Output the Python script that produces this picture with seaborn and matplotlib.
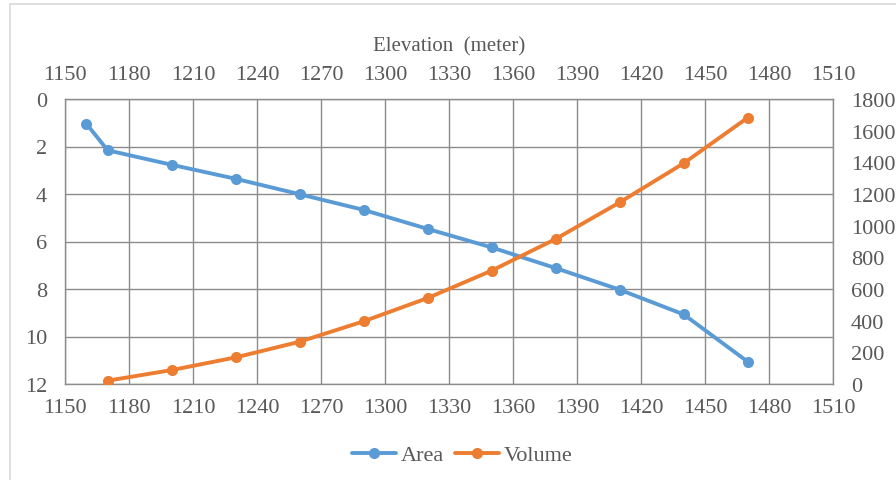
import numpy as np
import pandas as pd
import seaborn as sns
import matplotlib.pyplot as plt
from matplotlib.lines import Line2D

# values
area_elev = [1160, 1170, 1200, 1230, 1260, 1290, 1320, 1350, 1380, 1410, 1440, 1470]
area_vals = [1.04, 2.16, 2.77, 3.36, 4.01, 4.67, 5.47, 6.25, 7.12, 8.03, 9.07, 11.06]
vol_elev = [1170, 1200, 1230, 1260, 1290, 1320, 1350, 1380, 1410, 1440, 1470]
vol_vals = [21, 88, 168, 267, 396, 543, 716, 916, 1147, 1394, 1682]
x_ticks = list(range(1150, 1511, 30))
left_ticks = list(range(0, 13, 2))
right_ticks = list(range(0, 1801, 200))

blue = "#5B9BD5"
orange = "#ED7D31"
txt = "#595959"
grid = "#8C8C8C"
fs = 16

sns.set_theme(style="white")
plt.rcParams["font.family"] = ["Liberation Serif", "DejaVu Serif"]

area_df = pd.DataFrame({"Elevation": area_elev, "Area": area_vals})
vol_df = pd.DataFrame({"Elevation": vol_elev, "Volume": vol_vals})

fig = plt.figure(figsize=(8.96, 4.81), dpi=100)
ax = fig.add_axes([65 / 896, 1 - 385 / 481, (833 - 65) / 896, (385 - 100) / 481])

line_kw = dict(marker="o", markersize=8, markeredgewidth=0, linewidth=2.8)

sns.lineplot(data=area_df, x="Elevation", y="Area", ax=ax, color=blue, **line_kw)
ax.set_xlim(1150, 1510)
ax.set_ylim(12, 0)
ax.set_xticks(x_ticks)
ax.set_yticks(left_ticks)
ax.grid(True, color=grid, linewidth=1.0)
ax.set_xlabel("")
ax.set_ylabel("")
ax.tick_params(axis="both", length=0, labelsize=fs, labelcolor=txt)
ax.tick_params(axis="y", pad=13)
ax.tick_params(axis="x", pad=10)
for s in ax.spines.values():
    s.set_color(grid)
    s.set_linewidth(1.0)

ax2 = ax.twinx()
sns.lineplot(data=vol_df, x="Elevation", y="Volume", ax=ax2, color=orange, **line_kw)
ax2.set_ylim(0, 1800)
ax2.set_yticks(right_ticks)
ax2.set_ylabel("")
ax2.tick_params(axis="y", length=0, labelsize=fs, labelcolor=txt, pad=13)
for s in ax2.spines.values():
    s.set_visible(False)

top = ax.secondary_xaxis("top")
top.set_xticks(x_ticks)
top.tick_params(length=0, labelsize=fs, labelcolor=txt, pad=11)
top.spines["top"].set_visible(False)
top.set_xlabel("Elevation  (meter)", fontsize=15, color=txt, labelpad=10)

# outer chart border
fig.add_artist(Line2D([10 / 896, 10 / 896], [0, 1 - 5 / 481], color="#D9D9D9", linewidth=1.2))
fig.add_artist(Line2D([10 / 896, 1], [1 - 5 / 481, 1 - 5 / 481], color="#D9D9D9", linewidth=1.2))

handles = [Line2D([], [], color=blue, **line_kw),
           Line2D([], [], color=orange, **line_kw)]
fig.legend(handles, ["Area", "Volume"], loc="center", bbox_to_anchor=(462 / 896, 1 - 456 / 481),
           ncol=2, frameon=False, fontsize=fs, labelcolor=txt, handlelength=2.0,
           handletextpad=0.2, columnspacing=0.5)

fig.savefig("out.png", dpi=100)
